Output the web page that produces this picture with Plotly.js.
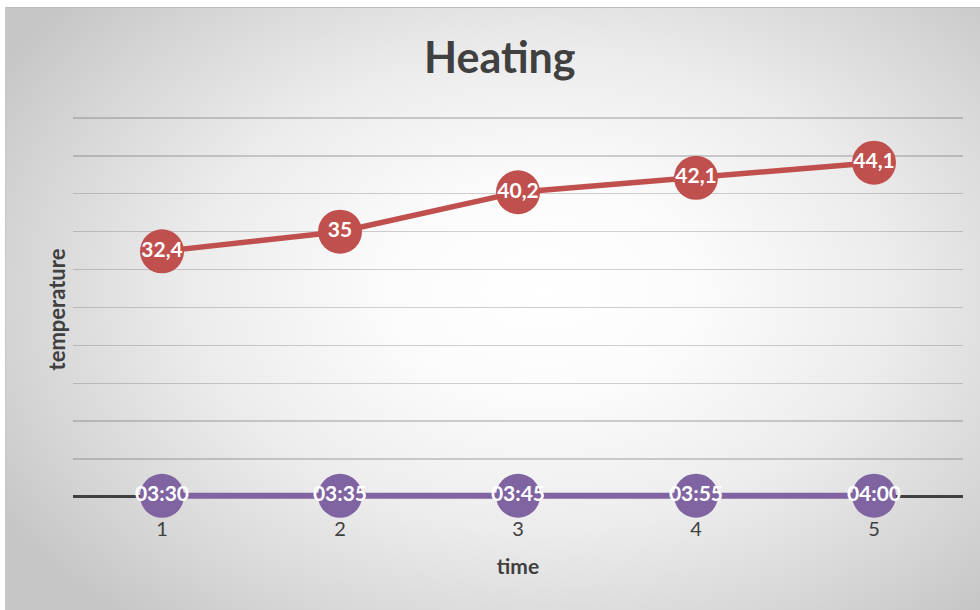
<!DOCTYPE html>
<html>
<head>
<meta charset="utf-8">
<script src="https://cdn.plot.ly/plotly-3.0.1.min.js"></script>
<style>
  html, body { margin: 0; padding: 0; background: #ffffff; }
  #bg {
    position: absolute; left: 5px; top: 7px; width: 975px; height: 603px;
    background: radial-gradient(ellipse 65% 72% at 55% 47%, #ffffff 0%, #fbfbfb 25%, #ececec 55%, #d6d6d6 82%, #c6c6c6 100%);
    border-top: 1px solid #bdbdbd; border-left: 1px solid #c8c8c8;
  }
  #chart { position: absolute; left: 0; top: 0; width: 980px; height: 610px; }
</style>
</head>
<body>
<div id="bg"></div>
<div id="chart"></div>
<script>
const categories = [1, 2, 3, 4, 5];
const temperature = [32.4, 35, 40.2, 42.1, 44.1];
const temperatureLabels = ["32,4", "35", "40,2", "42,1", "44,1"];
const timeValues = [0.1458, 0.1493, 0.1563, 0.1632, 0.1667];
const timeLabels = ["03:30", "03:35", "03:45", "03:55", "04:00"];
const tickLabels = ["1", "2", "3", "4", "5"];

const FONT = "Lato, 'Open Sans', sans-serif";
const labelFont = { family: FONT, size: 21, color: "#ffffff", weight: "bold" };

const traces = [
  {
    x: categories, y: timeValues, type: "scatter", mode: "lines+markers+text",
    line: { color: "#8064A2", width: 6 },
    marker: { color: "#8064A2", size: 44 },
    text: timeLabels, textposition: "middle center", textfont: labelFont,
    cliponaxis: false, hoverinfo: "skip", showlegend: false
  },
  {
    x: categories, y: temperature, type: "scatter", mode: "lines+markers+text",
    line: { color: "#C0504D", width: 5.5 },
    marker: { color: "#C0504D", size: 44 },
    text: temperatureLabels, textposition: "middle center", textfont: labelFont,
    cliponaxis: false, hoverinfo: "skip", showlegend: false
  }
];

const layout = {
  width: 980, height: 610,
  margin: { l: 73, r: 17, t: 116, b: 107 },
  paper_bgcolor: "rgba(0,0,0,0)",
  plot_bgcolor: "rgba(0,0,0,0)",
  title: {
    text: "Heating",
    font: { family: FONT, size: 43, color: "#404040", weight: "bold" },
    x: 0.51, xanchor: "center", yref: "container", y: 0.905, yanchor: "middle"
  },
  xaxis: {
    range: [0.5, 5.5],
    tickvals: categories, ticktext: tickLabels,
    showgrid: false, zeroline: false, showline: false,
    ticks: "outside", ticklen: 8, tickcolor: "rgba(0,0,0,0)",
    tickfont: { family: FONT, size: 20, color: "#404040" },
    title: { text: "time", font: { family: FONT, size: 21, color: "#404040", weight: "bold" }, standoff: 20 }
  },
  yaxis: {
    range: [-0.8, 50.26], dtick: 5, tick0: 0,
    showticklabels: false, ticks: "",
    showgrid: true, gridcolor: "rgba(90,90,90,0.28)", gridwidth: 1.3,
    zeroline: true, zerolinecolor: "#404040", zerolinewidth: 3,
    showline: false,
    title: { text: "temperature", font: { family: FONT, size: 22, color: "#404040", weight: "bold" }, standoff: 0 }
  }
};

Plotly.newPlot("chart", traces, layout, { displayModeBar: false, staticPlot: true });
</script>
</body>
</html>
